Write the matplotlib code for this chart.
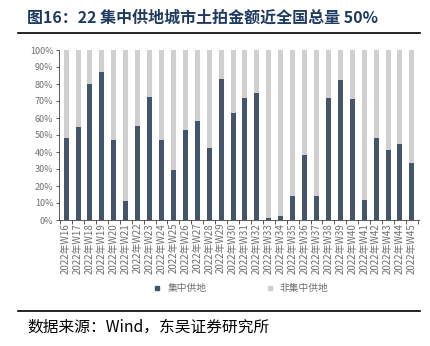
import numpy as np
import matplotlib.pyplot as plt
from matplotlib.lines import Line2D

plt.rcParams['font.family'] = ['Noto Sans CJK SC', 'DejaVu Sans']

# ─── Data ────────────────────────────────────────────────────────────────────
WEEKS = [f"2022年W{w}" for w in range(16, 46)]
CENTRAL_SHARE = [48, 55, 80, 87, 47, 11, 55.5, 72.5, 47, 29.5,
                 53, 58, 42.5, 83, 63, 72, 74.5, 1, 2.5, 14,
                 38.5, 14, 72, 82.5, 71, 11.5, 48, 41, 44.5, 33.5]
SERIES = ["集中供地", "非集中供地"]

DARK = "#44546a"
LIGHT = "#d0cece"
TITLE_COLOR = "#1f3a60"
TICK_COLOR = "#6e6e6e"


def main():
    central = np.array(CENTRAL_SHARE) / 100
    other = 1 - central
    x = np.arange(len(WEEKS))

    fig = plt.figure(figsize=(4.3, 3.46), dpi=100)
    ax = fig.add_axes([59 / 430, 1 - 220 / 346, 360 / 430, 170 / 346])

    ax.bar(x, central, width=0.42, color=DARK, zorder=2)
    ax.bar(x, other, width=0.42, bottom=central, color=LIGHT, zorder=2)

    ax.set_xlim(-0.6, len(WEEKS) - 0.4)
    ax.set_ylim(0, 1)
    ax.set_yticks(np.arange(0, 1.01, 0.1))
    ax.set_yticklabels([f"{int(round(v * 100))}%" for v in np.arange(0, 1.01, 0.1)],
                       fontsize=6.5, color=TICK_COLOR)
    ax.set_xticks(x)
    ax.set_xticklabels(WEEKS, rotation=90, fontsize=7, color=TICK_COLOR)
    ax.set_xticks(np.arange(-0.5, len(WEEKS), 1), minor=True)
    ax.tick_params(axis="x", which="major", length=0, pad=2)
    ax.tick_params(axis="x", which="minor", length=3, color="#404040", width=0.6)
    ax.tick_params(axis="y", length=2, color="#404040", width=0.6, pad=2)

    for s in ("top", "right"):
        ax.spines[s].set_visible(False)
    ax.spines["left"].set_color("#404040")
    ax.spines["bottom"].set_color("#404040")
    ax.spines["left"].set_linewidth(0.6)
    ax.spines["bottom"].set_linewidth(0.6)

    handles = [Line2D([], [], marker="s", ls="", color=DARK, markersize=3),
               Line2D([], [], marker="s", ls="", color=LIGHT, markersize=3)]
    fig.legend(handles, SERIES, loc="center", bbox_to_anchor=(238 / 430, 1 - 288 / 346),
               ncol=2, frameon=False, fontsize=7, handletextpad=0.05,
               columnspacing=5.5, labelcolor=TICK_COLOR)

    # title, rules and source line
    fig.text(27 / 430, 1 - 18 / 346, "图16：22 集中供地城市土拍金额近全国总量 50%",
             fontsize=11.5, fontweight="bold", color=TITLE_COLOR, va="center", ha="left")
    fig.add_artist(Line2D([18 / 430, 420 / 430], [1 - 33 / 346, 1 - 33 / 346],
                          color="black", lw=1.2))
    fig.add_artist(Line2D([18 / 430, 420 / 430], [1 - 311 / 346, 1 - 311 / 346],
                          color="black", lw=1.2))
    fig.text(27 / 430, 1 - 327 / 346, "数据来源：Wind，东吴证券研究所",
             fontsize=11.3, color="black", va="center", ha="left")

    fig.savefig("out.png", dpi=100, facecolor="white")


if __name__ == "__main__":
    main()
